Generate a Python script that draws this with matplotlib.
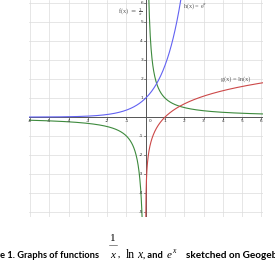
import numpy as np
import matplotlib
matplotlib.use("Agg")
import matplotlib.pyplot as plt

# x ranges drawn for each curve
recip_left = [-6.06, -0.19]
recip_right = [0.16, 6.09]
exp_range = [-6.06, 1.82]
ln_range = [0.0053, 6.09]

x_ticks = [-6, -5, -4, -3, -2, -1, 1, 2, 3, 4, 5, 6]
y_ticks = [-5, -4, -3, -2, -1, 1, 2, 3, 4, 5, 6]

green = "#3d8a3d"
blue = "#6262f2"
red = "#cc4848"

fig = plt.figure(figsize=(2.75, 2.65), dpi=100)
ax = fig.add_axes([0.1055, 0.181, 0.851, 0.819])
ax.set_xlim(-6.06, 6.09)
ax.set_ylim(-5.26, 6.16)

for v in range(-6, 7):
    ax.axvline(v, color="#dcdcdc", lw=0.5, zorder=0)
for v in range(-5, 7):
    ax.axhline(v, color="#dcdcdc", lw=0.5, zorder=0)
ax.axhline(0, color="#555555", lw=0.7, zorder=1)
ax.axvline(0, color="#555555", lw=0.7, zorder=1)

for side in ax.spines.values():
    side.set_visible(False)
ax.set_xticks([])
ax.set_yticks([])

for t in x_ticks:
    ax.plot([t, t], [0, -0.08], color="#555555", lw=0.5)
    ax.text(t, -0.12, str(t), fontsize=3.2, ha="center", va="top", color="#333333")
for t in y_ticks:
    ax.plot([0, -0.08], [t, t], color="#555555", lw=0.5)
    ax.text(-0.14, t, str(t), fontsize=3.2, ha="right", va="center", color="#333333")
ax.text(0.15, -0.12, "0", fontsize=3.2, ha="left", va="top", color="#333333")

xs = np.linspace(*recip_left, 400)
ax.plot(xs, 1 / xs, color=green, lw=0.8)
xs = np.linspace(*recip_right, 400)
ax.plot(xs, 1 / xs, color=green, lw=0.8)
xs = np.linspace(*exp_range, 400)
ax.plot(xs, np.exp(xs), color=blue, lw=0.8)
xs = np.geomspace(*ln_range, 600)
ax.plot(xs, np.log(xs), color=red, lw=0.8)

lab = dict(fontsize=4.5, va="center", color="#555555", family="Liberation Serif")
ax.text(-0.12, 5.55, r"f(x) $=$ $\frac{1}{x}$", ha="right", **lab)
ax.text(1.95, 5.85, r"h(x) = e$^x$", ha="left", **lab)
ax.text(3.9, 2.0, "g(x) = ln(x)", ha="left", **lab)


def fit_size(s, width_px):
    # font size that makes s about width_px wide in Lato bold
    renderer = fig.canvas.get_renderer()
    probe = fig.text(0, 0, s, fontsize=10, fontweight="bold", family="Lato")
    size = 10 * width_px / probe.get_window_extent(renderer).width
    probe.remove()
    return size


# caption, cut off at both edges like the source
left_size = fit_size("Graphs of functions", 82)
right_size = fit_size("sketched on Geogeb", 92)

fy = 1 - 258 / 265
bold = dict(fontweight="bold", family="Lato", va="baseline")
fig.text(99 / 275, fy, "Figure 1. Graphs of functions", ha="right", fontsize=left_size, **bold)
fig.text(113 / 275, 1 - 241 / 265, "1", fontsize=8, family="Liberation Serif",
         ha="center", va="baseline")
fig.add_artist(plt.Line2D([109 / 275, 117 / 275], [1 - 245 / 265] * 2, lw=0.4, color="#333333"))
fig.text(113 / 275, fy, "x", fontsize=8, family="Liberation Serif", style="italic",
         ha="center", va="baseline")
fig.text(118 / 275, fy, ",", fontsize=left_size, **bold)
fig.text(126 / 275, fy, "ln", fontsize=8.5, family="Liberation Serif", va="baseline")
fig.text(137 / 275, fy, "x", fontsize=8.5, family="Liberation Serif", style="italic",
         va="baseline")
fig.text(143 / 275, fy, ", and", fontsize=left_size, **bold)
fig.text(167 / 275, fy, "e", fontsize=8, family="Liberation Serif", style="italic",
         va="baseline")
fig.text(172.5 / 275, fy + 0.02, "x", fontsize=5.5, family="Liberation Serif",
         style="italic", va="baseline")
fig.text(186 / 275, fy, "sketched on Geogebra", fontsize=right_size, **bold)

fig.savefig("out.png", dpi=100)
